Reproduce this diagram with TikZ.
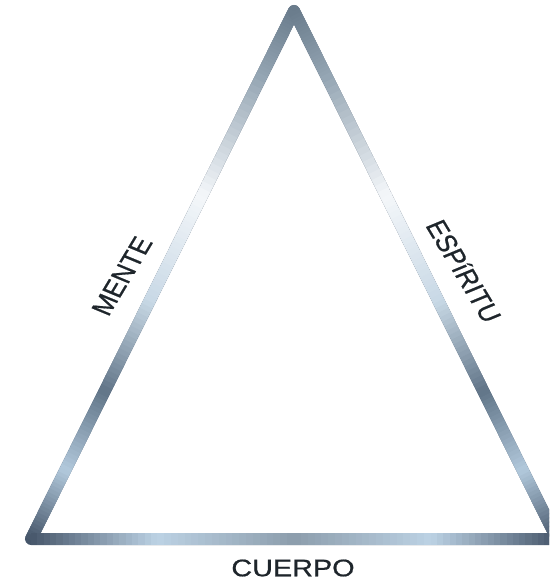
\documentclass[tikz,border=0pt]{standalone}
\usepackage{fontspec}
\setmainfont{Liberation Sans}
\newfontfamily\lblfont[FakeBold=0.7]{Liberation Sans}
\usetikzlibrary{calc}
\definecolor{cdark}{HTML}{46566A}
\definecolor{capex}{HTML}{6A7C8C}
\definecolor{cmidA}{HTML}{93A4B2}
\definecolor{cwhite}{HTML}{F4F7FA}
\definecolor{cpale}{HTML}{C8D8E5}
\definecolor{cslate}{HTML}{617588}
\definecolor{clight}{HTML}{B2C9DC}
\definecolor{cbl}{HTML}{BCD2E4}
\definecolor{cbm}{HTML}{8C9DAC}
\definecolor{ctext}{HTML}{1E252B}
\tikzset{
  edge/.style={line width=12pt, line cap=butt},
  lbl/.style={text=ctext, inner sep=0pt, font=\lblfont\fontsize{24}{28}\selectfont, xscale=1.2}
}
% gradient side: #1 start coord, #2 end coord, #3 list of t0/t1/c0/c1
\newcommand{\gradside}[3]{%
  \foreach \ta/\tb/\ca/\cb in {#3}{%
    \foreach \k in {1,...,20}{%
      \pgfmathsetmacro\sa{\ta+(\tb-\ta)*(\k-1)/20}%
      \pgfmathsetmacro\sb{\ta+(\tb-\ta)*\k/20+0.002}%
      \pgfmathsetmacro\pc{100*(\k-0.5)/20}%
      \draw[edge, color=\cb!\pc!\ca] ($(#1)!\sa!(#2)$) -- ($(#1)!\sb!(#2)$);
    }%
  }%
}
\begin{document}
\begin{tikzpicture}[x=1pt, y=-1pt]
  \useasboundingbox (0,0) rectangle (549,583);
  \clip (0,0) rectangle (549,583);
  \coordinate (A) at (294,11);
  \coordinate (B) at (31,539);
  \coordinate (C) at (557,539);
  % base triangle for the round corners
  \draw[line width=12pt, line join=round, color=cdark] (A) -- (B) -- (C) -- cycle;
  \fill[capex] (A) circle (6);
  % shaded sides
  \gradside{A}{B}{0/0.12/capex/cmidA, 0.12/0.35/cmidA/cwhite, 0.35/0.55/cwhite/cpale, 0.55/0.72/cpale/cslate, 0.72/0.87/cslate/clight, 0.87/1/clight/cdark}
  \gradside{A}{C}{0/0.12/capex/cmidA, 0.12/0.35/cmidA/cwhite, 0.35/0.55/cwhite/cpale, 0.55/0.72/cpale/cslate, 0.72/0.87/cslate/clight, 0.87/1/clight/cdark}
  \gradside{B}{C}{0/0.24/cdark/cbl, 0.24/0.5/cbl/cbm, 0.5/0.76/cbm/cbl, 0.76/1/cbl/cdark}
  % labels
  \node[lbl] (cuerpo) at (293,568) {CUERPO};
  \node[lbl, rotate=63.5] (mente) at (122,276) {MENTE};
  \node[lbl, rotate=-63.5] (espiritu) at (464,271) {ESPíRITU};
\end{tikzpicture}
\end{document}
